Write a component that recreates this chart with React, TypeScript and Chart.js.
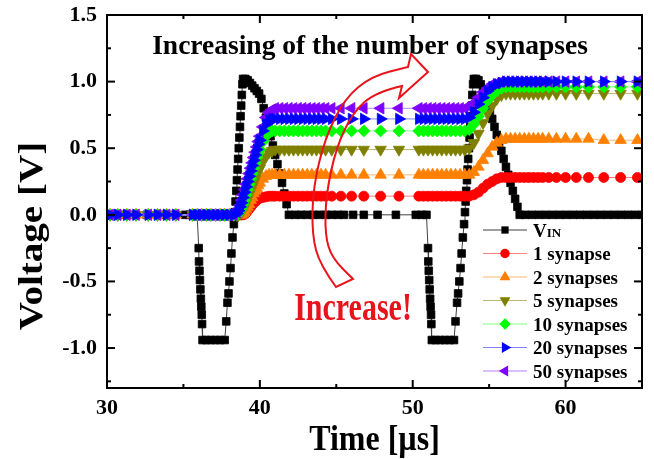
import React, { useEffect, useRef } from "react";
import { Chart, registerables } from "chart.js";

Chart.register(...registerables);

// ---------------- data ----------------
// shared simulation time steps of the synapse outputs [µs]
const synTime = [
  30.2, 30.7, 31.3, 31.9, 32.7, 33.3, 33.9, 34.5,
  35.6, 35.9, 36.2, 36.5, 36.8, 37.1, 37.4, 37.7, 38.0, 38.3,
  38.5, 38.6, 38.7, 38.8, 38.9, 39.0, 39.1, 39.2, 39.3, 39.4, 39.5, 39.6, 39.7, 39.8, 39.9, 40.0,
  40.2, 40.4, 40.6, 40.8, 41.0,
  41.3, 41.6, 41.9, 42.2, 42.5, 42.8, 43.1, 43.4, 43.7,
  44.0, 44.3, 44.7, 45.3, 46.0, 46.8, 47.9, 49.1,
  50.4, 50.7, 51.0, 51.3, 51.6, 51.9, 52.2, 52.5, 52.8,
  53.1, 53.4, 53.7, 54.0, 54.3, 54.6, 54.9, 55.2, 55.5, 55.8, 56.1, 56.4,
  56.7, 57.0, 57.3, 57.6, 57.9, 58.2,
  58.5, 58.9, 59.4, 60.0, 60.7, 61.5, 62.5, 63.6, 64.7,
];

const syn1 = [
  0, 0, 0, 0, 0, 0, 0, 0,
  0, 0, 0, 0, 0, 0, 0, 0, 0, 0,
  0, 0, 0, 0, 0, 0.005, 0.015, 0.03, 0.045, 0.06, 0.075, 0.09, 0.1, 0.11, 0.12, 0.125,
  0.13, 0.135, 0.14, 0.14, 0.14,
  0.14, 0.14, 0.14, 0.14, 0.14, 0.14, 0.14, 0.14, 0.14,
  0.14, 0.14, 0.14, 0.14, 0.14, 0.14, 0.14, 0.14,
  0.14, 0.14, 0.14, 0.14, 0.14, 0.14, 0.14, 0.14, 0.14,
  0.14, 0.14, 0.14, 0.15, 0.17, 0.2, 0.23, 0.25, 0.27, 0.28, 0.28, 0.28,
  0.28, 0.28, 0.28, 0.28, 0.28, 0.28,
  0.28, 0.28, 0.28, 0.28, 0.28, 0.28, 0.28, 0.28, 0.28,
];

const syn2 = [
  0, 0, 0, 0, 0, 0, 0, 0,
  0, 0, 0, 0, 0, 0, 0, 0, 0, 0,
  0, 0, 0, 0, 0.01, 0.02, 0.04, 0.06, 0.08, 0.11, 0.13, 0.16, 0.18, 0.2, 0.22, 0.24,
  0.27, 0.29, 0.3, 0.3, 0.3,
  0.3, 0.3, 0.3, 0.3, 0.3, 0.3, 0.3, 0.3, 0.3,
  0.3, 0.3, 0.3, 0.3, 0.3, 0.3, 0.3, 0.3,
  0.3, 0.3, 0.3, 0.3, 0.3, 0.3, 0.3, 0.3, 0.3,
  0.3, 0.3, 0.3, 0.32, 0.36, 0.41, 0.46, 0.51, 0.54, 0.56, 0.57, 0.57,
  0.57, 0.57, 0.57, 0.57, 0.57, 0.57,
  0.57, 0.57, 0.57, 0.57, 0.57, 0.57, 0.56, 0.56, 0.56,
];

const syn5 = [
  0, 0, 0, 0, 0, 0, 0, 0,
  0, 0, 0, 0, 0, 0, 0, 0, 0, 0,
  0, 0, 0.01, 0.02, 0.04, 0.06, 0.09, 0.12, 0.15, 0.18, 0.21, 0.24, 0.27, 0.3, 0.33, 0.35,
  0.4, 0.44, 0.47, 0.48, 0.49,
  0.49, 0.49, 0.49, 0.49, 0.49, 0.49, 0.49, 0.49, 0.49,
  0.49, 0.49, 0.49, 0.49, 0.49, 0.49, 0.49, 0.49,
  0.49, 0.49, 0.49, 0.49, 0.49, 0.49, 0.49, 0.49, 0.49,
  0.49, 0.49, 0.5, 0.54, 0.61, 0.69, 0.76, 0.82, 0.87, 0.9, 0.91, 0.91,
  0.91, 0.91, 0.91, 0.91, 0.91, 0.91,
  0.91, 0.91, 0.91, 0.91, 0.91, 0.91, 0.91, 0.91, 0.91,
];

const syn10 = [
  0, 0, 0, 0, 0, 0, 0, 0,
  0, 0, 0, 0, 0, 0, 0, 0, 0, 0,
  0, 0.01, 0.03, 0.05, 0.08, 0.11, 0.15, 0.19, 0.23, 0.27, 0.31, 0.35, 0.39, 0.43, 0.46, 0.49,
  0.55, 0.59, 0.62, 0.63, 0.63,
  0.63, 0.63, 0.63, 0.63, 0.63, 0.63, 0.63, 0.63, 0.63,
  0.63, 0.63, 0.63, 0.63, 0.63, 0.63, 0.63, 0.63,
  0.63, 0.63, 0.63, 0.63, 0.63, 0.63, 0.63, 0.63, 0.63,
  0.63, 0.63, 0.64, 0.68, 0.74, 0.8, 0.86, 0.9, 0.93, 0.95, 0.96, 0.96,
  0.96, 0.96, 0.96, 0.96, 0.96, 0.96,
  0.96, 0.96, 0.96, 0.96, 0.96, 0.96, 0.96, 0.96, 0.96,
];

const syn20 = [
  0, 0, 0, 0, 0, 0, 0, 0,
  0, 0, 0, 0, 0, 0, 0, 0, 0, 0,
  0.01, 0.03, 0.06, 0.09, 0.13, 0.17, 0.21, 0.25, 0.29, 0.33, 0.37, 0.41, 0.45, 0.49, 0.53, 0.56,
  0.63, 0.68, 0.71, 0.72, 0.72,
  0.72, 0.72, 0.72, 0.72, 0.72, 0.72, 0.72, 0.72, 0.72,
  0.72, 0.72, 0.72, 0.72, 0.72, 0.72, 0.72, 0.72,
  0.72, 0.72, 0.72, 0.72, 0.72, 0.72, 0.72, 0.72, 0.72,
  0.72, 0.72, 0.73, 0.77, 0.83, 0.88, 0.93, 0.96, 0.98, 0.99, 1.0, 1.0,
  1.0, 1.0, 1.0, 1.0, 1.0, 1.0,
  1.0, 1.0, 1.0, 1.0, 1.0, 1.0, 1.0, 1.0, 1.0,
];

const syn50 = [
  0, 0, 0, 0, 0, 0, 0, 0,
  0, 0, 0, 0, 0, 0, 0, 0, 0, 0,
  0.02, 0.04, 0.07, 0.11, 0.15, 0.19, 0.23, 0.27, 0.31, 0.35, 0.39, 0.43, 0.47, 0.51, 0.55, 0.59,
  0.66, 0.73, 0.77, 0.79, 0.8,
  0.8, 0.8, 0.8, 0.8, 0.8, 0.8, 0.8, 0.8, 0.8,
  0.8, 0.8, 0.8, 0.8, 0.8, 0.8, 0.8, 0.8,
  0.8, 0.8, 0.8, 0.8, 0.8, 0.8, 0.8, 0.8, 0.8,
  0.8, 0.8, 0.81, 0.84, 0.88, 0.92, 0.95, 0.98, 0.99, 1.0, 1.0, 1.0,
  1.0, 1.0, 1.0, 1.0, 1.0, 1.0,
  1.0, 1.0, 1.0, 1.0, 1.0, 1.0, 1.0, 1.0, 1.0,
];

// input voltage V_IN
const vinTime = [
  30.2, 31.0, 31.6, 32.6, 33.6, 34.4, 35.1, 35.4, 35.7, 35.9,
  36.0, 36.02, 36.05, 36.08, 36.11, 36.14, 36.17, 36.2, 36.22, 36.25,
  36.5, 36.8, 37.1, 37.4, 37.7,
  37.8, 37.88, 37.95, 38.01, 38.08, 38.14, 38.21, 38.3,
  38.36, 38.41, 38.46, 38.5, 38.54, 38.58, 38.62, 38.66, 38.7, 38.74, 38.78, 38.82, 38.86, 38.9,
  39.05, 39.2, 39.35, 39.5, 39.65, 39.8, 39.95, 40.1, 40.25, 40.4, 40.55, 40.7, 40.85, 41.0, 41.15, 41.3, 41.45, 41.6, 41.75, 41.9,
  42.3, 42.7, 43.1, 43.5, 43.9, 44.3, 44.7, 45.1, 45.5,
  46.1, 46.8, 47.7, 48.9, 50.2, 50.6, 50.9,
  51.0, 51.02, 51.05, 51.08, 51.11, 51.14, 51.17, 51.2, 51.22, 51.25,
  51.5, 51.8, 52.1, 52.4, 52.7,
  52.8, 52.9, 52.97, 53.05, 53.13, 53.2, 53.28, 53.36,
  53.42, 53.46, 53.5, 53.55, 53.59, 53.63, 53.68, 53.72, 53.77, 53.81, 53.86, 53.9, 53.95, 54.0,
  54.15, 54.3, 54.45, 54.6, 54.75, 54.9, 55.05, 55.2, 55.35, 55.5, 55.65, 55.8, 55.95, 56.1, 56.25, 56.4, 56.55, 56.7, 56.85, 57.0,
  57.35, 57.8, 58.25, 58.7, 59.15, 59.6, 60.05, 60.5, 60.95, 61.4, 61.85, 62.3, 62.75, 63.2, 63.65, 64.1, 64.55, 65.0,
];

const vinVolt = [
  0, 0, 0, 0, 0, 0, 0, 0, 0, 0,
  -0.25, -0.35, -0.42, -0.49, -0.56, -0.63, -0.69, -0.75, -0.82, -0.94,
  -0.94, -0.94, -0.94, -0.94, -0.94,
  -0.8, -0.66, -0.59, -0.5, -0.4, -0.29, -0.17, -0.07,
  0.02, 0.1, 0.18, 0.26, 0.34, 0.42, 0.5, 0.58, 0.66, 0.74, 0.82, 0.9, 0.98, 1.02,
  1.02, 1.01, 0.99, 0.97, 0.95, 0.93, 0.91, 0.87, 0.8, 0.73, 0.66, 0.59, 0.52, 0.45, 0.38, 0.31, 0.24, 0.16, 0.08, 0,
  0, 0, 0, 0, 0, 0, 0, 0, 0,
  0, 0, 0, 0, 0, 0, 0,
  -0.25, -0.35, -0.42, -0.49, -0.56, -0.63, -0.69, -0.75, -0.82, -0.94,
  -0.94, -0.94, -0.94, -0.94, -0.94,
  -0.8, -0.66, -0.59, -0.5, -0.4, -0.29, -0.17, -0.07,
  0.02, 0.1, 0.18, 0.26, 0.34, 0.42, 0.5, 0.58, 0.66, 0.74, 0.82, 0.9, 0.98, 1.02,
  1.02, 1.01, 0.98, 0.94, 0.89, 0.84, 0.78, 0.72, 0.66, 0.6, 0.54, 0.48, 0.42, 0.36, 0.3, 0.24, 0.18, 0.12, 0.06, 0,
  0, 0, 0, 0, 0, 0, 0, 0, 0, 0, 0, 0, 0, 0, 0, 0, 0, 0,
];

const xMajorTicks = [30, 40, 50, 60];
const xMinorTicks = [35, 45, 55, 65];
const yMajorTicks = [-1.0, -0.5, 0.0, 0.5, 1.0, 1.5];
const yMinorTicks = [-1.25, -0.75, -0.25, 0.25, 0.75, 1.25];

const seriesNames = ["VIN", "1 synapse", "2 synapses", "5 synapses", "10 synapses", "20 synapses", "50 synapses"];

// ---------------- styles ----------------
const SERIF = '"Liberation Serif", "Times New Roman", serif';
const markerColors = ["#000000", "#ff0000", "#ff8000", "#808000", "#00ff00", "#0000ff", "#8000ff"];
const lineColors = ["#404040", "#ff8080", "#ffb870", "#b8b870", "#80ff80", "#8080ff", "#b880ff"];
const markerStyles = ["rect", "circle", "triangle", "triangle", "rectRot", "triangle", "triangle"];
const markerRotations = [0, 0, 0, 180, 0, 90, 270];
const markerRadius = [5.4, 5, 6.6, 6.6, 6, 6.6, 6.6];
const drawOrder = [6, 5, 4, 3, 2, 0, 1];

function drawMarker(ctx: CanvasRenderingContext2D, style: string, rot: number, x: number, y: number, r: number) {
  ctx.beginPath();
  if (style === "circle") {
    ctx.arc(x, y, r, 0, Math.PI * 2);
  } else if (style === "rect") {
    const s = r * Math.SQRT1_2;
    ctx.rect(x - s, y - s, 2 * s, 2 * s);
  } else if (style === "rectRot") {
    ctx.moveTo(x, y - r);
    ctx.lineTo(x + r, y);
    ctx.lineTo(x, y + r);
    ctx.lineTo(x - r, y);
    ctx.closePath();
  } else {
    let a = (rot * Math.PI) / 180;
    for (let k = 0; k < 3; k++) {
      const px = x + Math.sin(a) * r;
      const py = y - Math.cos(a) * r;
      if (k === 0) ctx.moveTo(px, py);
      else ctx.lineTo(px, py);
      a += (2 * Math.PI) / 3;
    }
    ctx.closePath();
  }
  ctx.fill();
}

function smoothThrough(ctx: CanvasRenderingContext2D, pts: number[][], first: boolean) {
  if (first) ctx.moveTo(pts[0][0], pts[0][1]);
  else ctx.lineTo(pts[0][0], pts[0][1]);
  for (let i = 1; i < pts.length - 1; i++) {
    const mx = (pts[i][0] + pts[i + 1][0]) / 2;
    const my = (pts[i][1] + pts[i + 1][1]) / 2;
    ctx.quadraticCurveTo(pts[i][0], pts[i][1], mx, my);
  }
  const last = pts[pts.length - 1];
  ctx.lineTo(last[0], last[1]);
}

function stretchedText(ctx: CanvasRenderingContext2D, text: string, x: number, y: number, sx: number, sy: number) {
  ctx.save();
  ctx.translate(x, y);
  ctx.scale(sx, sy);
  ctx.fillText(text, 0, 0);
  ctx.restore();
}

const decorPlugin = {
  id: "decor",
  afterDraw(chart: any) {
    const { ctx, chartArea: a, scales } = chart;
    const xs = scales.x;
    const ys = scales.y;
    ctx.save();

    // frame
    ctx.strokeStyle = "#000";
    ctx.lineWidth = 2;
    ctx.strokeRect(a.left, a.top, a.right - a.left, a.bottom - a.top);

    const seg = (x1: number, y1: number, x2: number, y2: number) => {
      ctx.beginPath();
      ctx.moveTo(x1, y1);
      ctx.lineTo(x2, y2);
      ctx.stroke();
    };
    const xt = (v: number, len: number) => {
      const p = xs.getPixelForValue(v);
      seg(p, a.bottom, p, a.bottom - len);
      seg(p, a.top, p, a.top + len);
    };
    const yt = (v: number, len: number) => {
      const p = ys.getPixelForValue(v);
      seg(a.left, p, a.left + len, p);
      seg(a.right, p, a.right - len, p);
    };
    xMajorTicks.forEach((v) => xt(v, 8));
    xMinorTicks.forEach((v) => xt(v, 4));
    yMajorTicks.forEach((v) => yt(v, 8));
    yMinorTicks.forEach((v) => yt(v, 4));

    // axis titles
    ctx.fillStyle = "#000";
    ctx.textAlign = "center";
    ctx.textBaseline = "middle";
    ctx.font = `bold 32px ${SERIF}`;
    stretchedText(ctx, "Time [\u00b5s]", (a.left + a.right) / 2, 440, 1, 1.15);
    ctx.save();
    ctx.translate(33, 236);
    ctx.rotate(-Math.PI / 2);
    ctx.scale(1.22, 1.05);
    ctx.fillText("Voltage [V]", 0, 0);
    ctx.restore();

    // annotation texts
    ctx.textBaseline = "alphabetic";
    ctx.font = `bold 27.5px ${SERIF}`;
    ctx.fillText("Increasing of the number of synapses", 370, 54);
    ctx.fillStyle = "#e8141c";
    ctx.font = `bold 30px ${SERIF}`;
    stretchedText(ctx, "Increase!", 353, 320, 1, 1.35);

    // red curved hollow arrow
    const outer = [[336, 287], [320, 265], [312, 235], [313, 188], [325, 138], [345, 98], [372, 76], [408, 67]];
    const inner = [[402, 86], [376, 92], [353, 112], [336, 148], [326, 195], [325, 235], [332, 258], [353, 279]];
    ctx.strokeStyle = "#e8141c";
    ctx.lineWidth = 2;
    ctx.lineJoin = "miter";
    ctx.beginPath();
    smoothThrough(ctx, outer, true);
    ctx.lineTo(411, 54);
    ctx.lineTo(428, 72);
    ctx.lineTo(399, 98);
    smoothThrough(ctx, inner, false);
    ctx.closePath();
    ctx.stroke();

    // legend
    const rowY0 = 230;
    const rowStep = 23.5;
    seriesNames.forEach((name, i) => {
      const y = rowY0 + i * rowStep;
      ctx.strokeStyle = lineColors[i];
      ctx.lineWidth = 1.2;
      seg(483, y, 527, y);
      ctx.fillStyle = markerColors[i];
      drawMarker(ctx, markerStyles[i], markerRotations[i], 505, y, markerRadius[i] * 0.95);
      ctx.fillStyle = "#000";
      ctx.textAlign = "left";
      ctx.textBaseline = "alphabetic";
      if (i === 0) {
        ctx.font = `bold 19px ${SERIF}`;
        ctx.fillText("V", 533, y + 6.5);
        const w = ctx.measureText("V").width;
        ctx.font = `bold 13px ${SERIF}`;
        ctx.fillText("IN", 533 + w, y + 6.5);
      } else {
        ctx.font = `bold 19px ${SERIF}`;
        ctx.fillText(name, 533, y + 6.5);
      }
    });

    ctx.restore();
  },
};

export default function App() {
  const ref = useRef<HTMLCanvasElement>(null);

  useEffect(() => {
    document.body.style.margin = "0";
    const canvas = ref.current;
    if (!canvas) return;

    const synSeries = [syn1, syn2, syn5, syn10, syn20, syn50];
    const makeDs = (i: number, xsArr: number[], ysArr: number[]) => ({
      label: seriesNames[i],
      data: xsArr.map((t, k) => ({ x: t, y: ysArr[k] })),
      borderColor: lineColors[i],
      borderWidth: 1,
      backgroundColor: markerColors[i],
      pointBackgroundColor: markerColors[i],
      pointBorderColor: markerColors[i],
      pointBorderWidth: 0.8,
      pointRadius: markerRadius[i],
      pointStyle: markerStyles[i],
      pointRotation: markerRotations[i],
      showLine: true,
      fill: false,
      tension: 0,
      order: drawOrder[i],
    });
    const datasets: any[] = synSeries.map((vals, k) => makeDs(k + 1, synTime, vals));
    datasets.push(makeDs(0, vinTime, vinVolt));

    const tickFont = { family: SERIF, size: 22, weight: "bold" as const };

    const chart = new Chart(canvas, {
      type: "line",
      data: { datasets },
      options: {
        animation: false,
        responsive: false,
        layout: { padding: { top: 15, right: 12, left: 0, bottom: 0 } },
        plugins: { legend: { display: false }, tooltip: { enabled: false } },
        scales: {
          x: {
            type: "linear",
            min: 30,
            max: 65,
            grid: { display: false, drawTicks: false },
            border: { display: false },
            afterBuildTicks: (s: any) => {
              s.ticks = xMajorTicks.map((v) => ({ value: v }));
            },
            afterFit: (s: any) => {
              s.height = 71;
              s.paddingLeft = 0;
              s.paddingRight = 0;
            },
            ticks: {
              color: "#000",
              font: tickFont,
              padding: 7,
              maxRotation: 0,
              autoSkip: false,
              callback: (v: any) => String(v),
            },
          },
          y: {
            type: "linear",
            min: -1.3,
            max: 1.5,
            grid: { display: false, drawTicks: false },
            border: { display: false },
            afterBuildTicks: (s: any) => {
              s.ticks = yMajorTicks.map((v) => ({ value: v }));
            },
            afterFit: (s: any) => {
              s.width = 107;
              s.paddingTop = 0;
              s.paddingBottom = 0;
            },
            ticks: {
              color: "#000",
              font: tickFont,
              padding: 10,
              autoSkip: false,
              callback: (v: any) => Number(v).toFixed(1),
            },
          },
        },
      },
      plugins: [decorPlugin],
    });

    return () => chart.destroy();
  }, []);

  return (
    <div style={{ width: 654, height: 459 }}>
      <canvas ref={ref} width={654} height={459} style={{ display: "block", width: 654, height: 459 }} />
    </div>
  );
}
